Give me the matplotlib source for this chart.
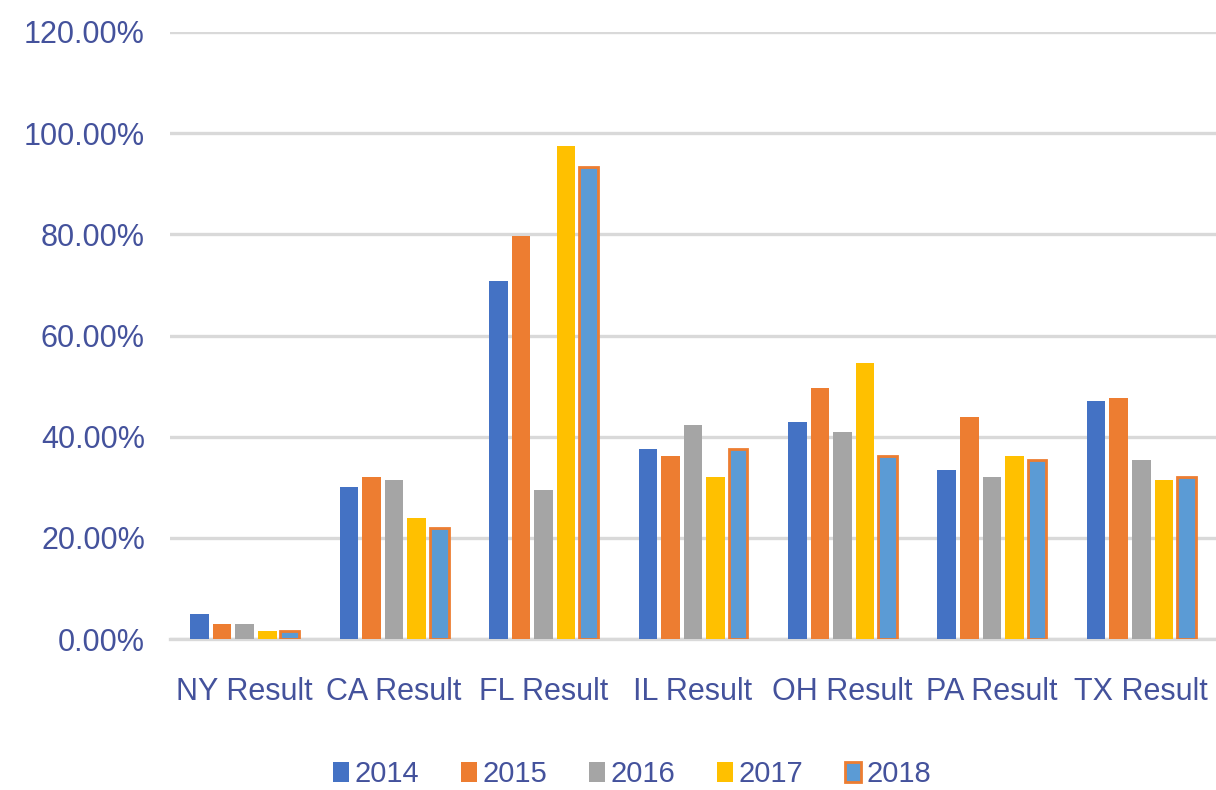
import matplotlib
matplotlib.use("Agg")
import numpy as np
import matplotlib.pyplot as plt
from matplotlib.ticker import PercentFormatter

# data (fractions)
categories = ["NY Result", "CA Result", "FL Result", "IL Result", "OH Result", "PA Result", "TX Result"]
years = ["2014", "2015", "2016", "2017", "2018"]
v2014 = [0.050, 0.300, 0.708, 0.376, 0.430, 0.335, 0.471]
v2015 = [0.030, 0.321, 0.796, 0.362, 0.497, 0.438, 0.477]
v2016 = [0.030, 0.315, 0.295, 0.424, 0.410, 0.321, 0.354]
v2017 = [0.016, 0.240, 0.974, 0.321, 0.545, 0.362, 0.315]
v2018 = [0.015, 0.220, 0.933, 0.376, 0.362, 0.354, 0.321]
yticks = [0, 0.2, 0.4, 0.6, 0.8, 1.0, 1.2]

series = [v2014, v2015, v2016, v2017, v2018]
colors = ["#4472C4", "#ED7D31", "#A5A5A5", "#FFC000", "#5B9BD5"]
text_color = "#44529c"

plt.rcParams['font.family'] = ["Liberation Sans", "DejaVu Sans"]

fig = plt.figure(figsize=(12.16, 7.90), dpi=100)
ax = fig.add_axes([0.1398, 0.1911, 0.8602, 0.7684])

x = np.arange(len(categories))
pitch = 0.151
width = 0.125
for i, (vals, col) in enumerate(zip(series, colors)):
    offs = (i - 2) * pitch
    if i == 4:
        # last series is drawn with an orange outline in the original
        ax.bar(x + offs, vals, width, color=col, edgecolor="#ED7D31",
               linewidth=2.0, label=years[i], zorder=3)
    else:
        ax.bar(x + offs, vals, width, color=col, label=years[i], zorder=3)

ax.set_xlim(-0.5, len(categories) - 0.5)
ax.set_ylim(0, 1.2)
ax.set_yticks(yticks)
ax.yaxis.set_major_formatter(PercentFormatter(1.0, decimals=2))
ax.set_xticks(x)
ax.set_xticklabels(categories)

ax.grid(axis="y", color="#D9D9D9", linewidth=2.4, zorder=0)
ax.set_axisbelow(True)
for s in ["top", "right", "left"]:
    ax.spines[s].set_visible(False)
ax.spines["bottom"].set_color("#D9D9D9")
ax.spines["bottom"].set_linewidth(2.4)
ax.spines["bottom"].set_zorder(1)

ax.tick_params(axis="both", length=0, labelsize=22, labelcolor=text_color)
ax.tick_params(axis="x", pad=27)
ax.tick_params(axis="y", pad=18)

leg = fig.legend(loc="center", bbox_to_anchor=(0.52, 0.02), ncol=5, frameon=False,
                 fontsize=21, handlelength=0.52, handleheight=0.72,
                 handletextpad=0.2, columnspacing=1.45, borderaxespad=0)
for t in leg.get_texts():
    t.set_color(text_color)

fig.savefig("out.png", dpi=100)
